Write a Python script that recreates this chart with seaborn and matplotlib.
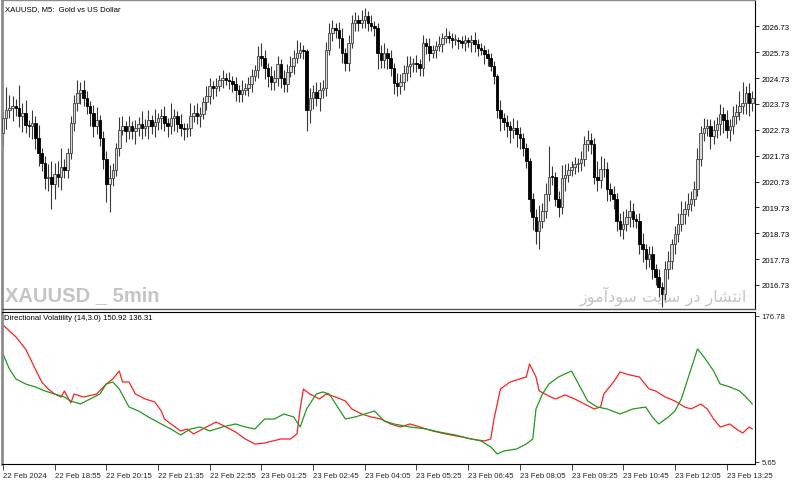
import numpy as np
import pandas as pd
import matplotlib
matplotlib.use("Agg")
import matplotlib.pyplot as plt
from matplotlib import font_manager as fm
import seaborn as sns

# ---------------- data ----------------
open_first = 2022.60
closes = [
    2023.17, 2023.48, 2023.56, 2023.64, 2023.56, 2023.25, 2023.37, 2022.90, 2022.86, 2022.98,
    2022.40, 2021.82, 2021.43, 2020.85, 2020.92, 2020.65, 2021.04, 2020.92, 2021.31, 2021.16,
    2021.82, 2022.98, 2023.76, 2024.14, 2024.26, 2023.95, 2023.64, 2023.37, 2022.86, 2023.10,
    2022.40, 2021.62, 2020.65, 2020.85, 2021.16, 2022.01, 2022.71, 2022.86, 2022.67, 2022.86,
    2022.67, 2022.79, 2022.94, 2022.79, 2022.86, 2023.10, 2022.86, 2023.02, 2023.17, 2023.25,
    2022.98, 2022.86, 2023.17, 2023.25, 2022.94, 2022.79, 2022.75, 2022.80, 2023.25, 2023.37,
    2023.25, 2023.33, 2023.80, 2024.03, 2024.42, 2024.34, 2024.42, 2024.65, 2024.73, 2024.65,
    2024.62, 2024.49, 2024.26, 2024.11, 2024.26, 2024.34, 2024.49, 2024.80, 2025.04, 2025.58,
    2025.50, 2025.11, 2024.80, 2024.57, 2024.73, 2025.27, 2024.73, 2024.49, 2024.96, 2025.19,
    2025.50, 2025.70, 2025.81, 2025.77, 2023.48, 2023.95, 2024.18, 2023.95, 2024.26, 2024.34,
    2025.81, 2026.47, 2026.67, 2026.59, 2026.28, 2025.70, 2025.31, 2026.08, 2026.86, 2026.98,
    2026.86, 2026.98, 2027.13, 2026.86, 2026.74, 2026.67, 2025.70, 2025.42, 2025.70, 2025.50,
    2025.11, 2024.53, 2024.42, 2024.57, 2024.92, 2025.19, 2025.27, 2025.31, 2025.27, 2025.11,
    2026.08, 2025.97, 2025.70, 2025.81, 2025.97, 2026.04, 2026.28, 2026.36, 2026.28, 2026.20,
    2026.22, 2026.16, 2026.08, 2026.20, 2026.12, 2026.20, 2026.04, 2025.89, 2025.81, 2025.66,
    2025.50, 2025.19, 2024.80, 2023.48, 2023.17, 2023.02, 2022.86, 2022.71, 2022.79, 2022.55,
    2022.40, 2022.01, 2021.54, 2020.07, 2019.37, 2018.83, 2019.22, 2019.60, 2020.26, 2020.92,
    2020.90, 2020.07, 2019.76, 2020.85, 2021.00, 2021.16, 2021.31, 2021.39, 2021.43, 2021.62,
    2022.20, 2022.32, 2022.20, 2020.92, 2020.77, 2021.23, 2021.20, 2020.46, 2020.26, 2020.07,
    2019.22, 2018.91, 2019.10, 2019.37, 2019.60, 2019.29, 2019.22, 2018.32, 2018.13, 2017.74,
    2017.94, 2017.35, 2017.04, 2016.66, 2016.38, 2017.35, 2017.66, 2018.32, 2018.71, 2019.10,
    2019.49, 2019.68, 2019.88, 2020.07, 2020.46, 2021.62, 2022.59, 2022.79, 2022.86, 2022.48,
    2022.71, 2022.94, 2023.33, 2023.10, 2022.71, 2022.86, 2023.25, 2023.41, 2023.64, 2023.76,
    2024.14, 2023.76, 2023.95,
]
wick_up = [
    0.3, 0.9, 0.5, 0.4, 0.3, 0.9, 0.4, 0.5, 0.2, 0.5,
    0.3, 0.5, 0.2, 0.3, 0.5, 0.6, 0.4, 0.5, 0.7, 0.3,
    0.2, 0.3, 0.3, 0.5, 0.3, 0.4, 0.3, 0.2, 0.3, 0.5,
    0.2, 0.3, 0.3, 0.5, 0.3, 0.2, 0.5, 0.4, 0.2, 0.4,
    0.2, 0.3, 0.3, 0.5, 0.3, 0.4, 0.2, 0.5, 0.2, 0.3,
    0.4, 0.2, 0.6, 0.3, 0.2, 0.4, 0.2, 0.2, 0.5, 0.3,
    0.4, 0.3, 0.2, 0.4, 0.3, 0.2, 0.3, 0.2, 0.3, 0.2,
    0.3, 0.2, 0.3, 0.2, 0.4, 0.2, 0.3, 0.3, 0.2, 0.4,
    0.5, 0.3, 0.2, 0.4, 0.3, 0.3, 0.2, 0.3, 0.3, 0.4,
    0.3, 0.5, 0.3, 0.2, 0.1, 0.4, 0.3, 0.4, 0.3, 0.3,
    0.3, 0.4, 0.3, 0.2, 0.3, 0.4, 0.2, 0.3, 0.3, 0.3,
    0.2, 0.4, 0.3, 0.2, 0.3, 0.2, 0.2, 0.3, 0.4, 0.2,
    0.3, 0.2, 0.4, 0.3, 0.3, 0.4, 0.3, 0.2, 0.3, 0.2,
    0.3, 0.2, 0.3, 0.2, 0.2, 0.3, 0.2, 0.3, 0.2, 0.2,
    0.2, 0.1, 0.2, 0.2, 0.1, 0.2, 0.3, 0.2, 0.2, 0.2,
    0.2, 0.2, 0.2, 0.1, 0.4, 0.2, 0.3, 0.2, 0.4, 0.3,
    0.3, 0.2, 0.2, 0.1, 0.2, 0.3, 0.6, 0.3, 0.4, 1.2,
    0.4, 0.2, 0.3, 0.5, 0.4, 0.3, 0.2, 0.3, 0.2, 0.3,
    0.3, 0.4, 0.3, 0.2, 0.6, 0.5, 0.4, 0.3, 0.2, 0.3,
    0.2, 0.3, 0.5, 0.3, 0.4, 0.3, 0.2, 0.3, 0.4, 0.2,
    0.3, 0.3, 0.2, 0.3, 0.2, 0.3, 0.4, 0.2, 0.3, 0.4,
    0.5, 0.3, 0.4, 0.3, 0.3, 0.4, 0.3, 0.4, 0.3, 0.3,
    0.4, 0.3, 0.4, 0.3, 0.4, 0.3, 0.4, 0.3, 0.6, 0.8,
    0.3, 0.4, 0.3,
]
wick_dn = [
    0.5, 0.4, 0.3, 0.5, 0.3, 0.4, 0.6, 0.3, 0.4, 0.5,
    0.4, 0.5, 0.3, 0.4, 0.5, 1.0, 0.6, 0.4, 0.5, 0.3,
    0.3, 0.2, 0.3, 0.3, 0.4, 0.3, 0.3, 0.5, 0.4, 0.3,
    0.3, 0.4, 0.7, 1.1, 0.3, 0.2, 0.3, 0.2, 0.4, 0.3,
    0.3, 0.5, 0.3, 0.4, 0.3, 0.5, 0.3, 0.4, 0.3, 0.4,
    0.3, 0.4, 0.3, 0.5, 0.3, 0.3, 0.4, 0.3, 0.3, 0.2,
    0.3, 0.4, 0.2, 0.3, 0.3, 0.4, 0.3, 0.2, 0.3, 0.2,
    0.3, 0.3, 0.4, 0.3, 0.3, 0.2, 0.3, 0.3, 0.2, 0.3,
    0.3, 0.4, 0.4, 0.3, 0.3, 0.3, 0.4, 0.3, 0.3, 0.2,
    0.3, 0.2, 0.2, 0.3, 0.8, 0.5, 0.4, 0.3, 0.5, 0.3,
    0.3, 0.2, 0.3, 0.3, 0.4, 0.4, 0.3, 0.3, 0.2, 0.3,
    0.3, 0.2, 0.3, 0.3, 0.2, 0.3, 0.6, 0.3, 0.3, 0.4,
    0.3, 0.4, 0.4, 0.3, 0.3, 0.3, 0.4, 0.3, 0.3, 0.3,
    0.3, 0.3, 0.3, 0.2, 0.3, 0.2, 0.3, 0.2, 0.2, 0.3,
    0.2, 0.3, 0.2, 0.3, 0.2, 0.4, 0.3, 0.3, 0.2, 0.4,
    0.3, 0.2, 0.3, 0.3, 0.5, 0.3, 0.4, 0.5, 0.3, 0.5,
    0.4, 0.3, 0.3, 0.5, 0.5, 0.5, 0.7, 0.3, 0.3, 0.3,
    0.3, 0.3, 0.4, 0.3, 0.5, 0.3, 0.2, 0.3, 0.3, 0.3,
    0.3, 0.3, 0.4, 0.3, 0.4, 0.3, 0.3, 0.5, 0.3, 0.4,
    0.4, 0.3, 0.4, 0.3, 0.4, 0.3, 0.3, 0.4, 0.5, 0.4,
    0.3, 0.4, 0.3, 0.4, 0.5, 0.3, 0.4, 0.3, 0.4, 0.3,
    0.3, 0.4, 0.3, 0.3, 0.3, 0.3, 0.3, 0.3, 0.3, 0.5,
    0.3, 0.3, 0.4, 0.5, 0.3, 0.4, 0.3, 0.3, 0.3, 0.3,
    0.4, 0.5, 0.3,
]

# Directional Volatility lines (bar index, value)
red_bar = [0, 2, 4, 7, 10, 12, 14, 16, 18, 19, 21, 22, 25, 29, 32, 34, 36, 37, 39, 41,
           44, 47, 49, 50, 52, 55, 57, 59, 63, 66, 69, 72, 75, 78, 81, 86, 89, 91, 92, 93,
           95, 98, 100, 103, 106, 108, 111, 114, 117, 120, 123, 126, 129, 133, 137, 142, 145, 149,
           151, 152, 154, 157, 160, 162, 163, 165, 166, 169, 171, 174, 177, 180, 183, 185,
           186, 189, 191, 194, 197, 200, 202, 205, 208, 211, 213, 216, 218, 220, 222, 225,
           227, 229, 231, 232]
red_val = [166.2, 159.2, 152.2, 138.1, 114.6, 99.4, 91.2, 85.3, 81.8, 88.9, 74.8, 85.3, 81.8, 85.3,
           97.1, 103.0, 112.3, 99.4, 99.4, 85.3, 79.5, 76.0, 65.4, 56.1, 50.2, 42.0, 44.3, 38.5,
           46.7, 52.5, 46.7, 40.8, 32.6, 26.7, 27.9, 32.6, 32.6, 38.5, 67.8, 91.2,
           85.3, 79.5, 85.3, 81.8, 77.1, 67.8, 61.9, 58.4, 56.0, 50.2, 46.7, 50.2, 46.7, 42.0,
           38.5, 35.0, 32.6, 30.3, 32.6, 56.0, 91.2, 99.4, 103.0, 105.3, 120.5, 105.3, 88.9,
           83.0, 79.5, 84.2, 79.5, 73.6, 67.8, 70.1, 85.3, 99.4, 111.1, 107.6, 105.3, 91.2,
           88.9, 81.8, 77.1, 70.1, 67.8, 73.6, 67.8, 56.0, 46.7, 50.2, 44.3, 39.6, 46.7, 44.3]
green_bar = [0, 2, 4, 7, 10, 13, 16, 19, 21, 24, 27, 30, 32, 34, 36, 39, 42, 45, 49, 52,
             55, 58, 61, 64, 68, 72, 75, 78, 81, 84, 87, 90, 92, 94, 97, 99, 101, 104, 106, 109,
             112, 115, 118, 121, 126, 131, 135, 140, 145, 148, 151, 153, 155, 159, 162, 164,
             165, 167, 169, 172, 174, 176, 179, 181, 184, 187, 191, 195, 199, 201, 203, 206,
             208, 210, 212, 215, 217, 220, 222, 225, 228, 230, 232]
green_val = [132.2, 114.6, 103.0, 97.1, 93.6, 88.9, 85.3, 81.8, 77.1, 73.6, 79.5, 85.3, 97.1,
             99.4, 91.2, 70.1, 65.4, 58.4, 50.2, 44.3, 37.3, 44.3, 46.7, 42.0, 46.7, 50.2, 46.7,
             44.3, 56.0, 56.0, 61.9, 58.4, 46.7, 67.8, 85.3, 87.7, 85.3, 67.8, 56.0, 58.4,
             61.9, 65.4, 53.7, 50.2, 46.7, 44.3, 40.8, 37.3, 32.6, 30.3, 23.2, 15.0, 18.5, 20.9,
             26.7, 32.6, 67.8, 85.3, 97.1, 105.3, 108.8, 112.3, 91.2, 77.1, 70.1, 67.8, 61.9,
             67.8, 70.1, 58.4, 50.2, 58.4, 65.4, 79.5, 103.0, 138.1, 128.7, 112.3, 97.1, 93.6,
             88.9, 81.8, 73.6]

price_ticks = [2016.73, 2017.73, 2018.73, 2019.73, 2020.73, 2021.73,
               2022.73, 2023.73, 2024.73, 2025.73, 2026.73]
vol_ticks = [5.65, 176.78]
vol_tick_labels = ["5.65", "176.78"]
time_tick_bars = [0, 16, 32, 48, 64, 80, 96, 112, 128, 144, 160, 176, 192, 208, 224]
time_labels = ["22 Feb 2024", "22 Feb 18:55", "22 Feb 20:15", "22 Feb 21:35", "22 Feb 22:55",
               "23 Feb 01:25", "23 Feb 02:45", "23 Feb 04:05", "23 Feb 05:25", "23 Feb 06:45",
               "23 Feb 08:05", "23 Feb 09:25", "23 Feb 10:45", "23 Feb 12:05", "23 Feb 13:25"]

# ---------------- figure ----------------
sns.set_style("white")
plt.rcParams['font.family'] = ['Liberation Sans', 'DejaVu Sans']
SMALL = 5.6

names = {f.name for f in fm.fontManager.ttflist}
if "Liberation Sans Narrow" in names:
    wm_family, wm_size = ["Liberation Sans Narrow", "DejaVu Sans"], 17
else:
    wm_family, wm_size = ["Liberation Sans", "DejaVu Sans"], 14.5

W, H = 800, 485
fig = plt.figure(figsize=(W / 100, H / 100), dpi=100)
fig.patch.set_facecolor("white")

def fr(x0, y0, x1, y1):
    return [x0 / W, 1 - y1 / H, (x1 - x0) / W, (y1 - y0) / H]

ax = fig.add_axes(fr(2, 1, 755, 310))
ax2 = fig.add_axes(fr(2, 313, 755, 465))

n = len(closes)
xs = np.arange(n)
c = np.array(closes)
o = np.array([open_first] + closes[:-1])
hi = np.maximum(o, c) + np.array(wick_up)
lo = np.minimum(o, c) - np.array(wick_dn)
bull = c >= o

ax.vlines(xs, lo, hi, color="#383838", lw=0.8, zorder=2)
body_h = np.where(np.abs(c - o) < 0.03, 0.03, np.abs(c - o))
body_b = np.minimum(o, c)
ax.bar(xs[bull], body_h[bull], bottom=body_b[bull], width=0.78,
       facecolor="#d9d9d9", edgecolor="#404040", linewidth=0.6, zorder=3)
ax.bar(xs[~bull], body_h[~bull], bottom=body_b[~bull], width=0.78,
       facecolor="black", edgecolor="black", linewidth=0.6, zorder=3)

ax.set_xlim(-0.3, 232.8)
ax.set_ylim(2015.80, 2027.75)
ax.yaxis.tick_right()
ax.set_yticks(price_ticks)
ax.set_yticklabels([f"{t:.2f}" for t in price_ticks])
ax.tick_params(axis="y", direction="out", length=3, width=0.6, labelsize=SMALL, pad=1.5,
               colors="black", right=True, left=False)
ax.set_xticks([])
for s in ["left", "top"]:
    ax.spines[s].set_color("#8c8c8c")
ax.spines["left"].set_linewidth(2.0)
ax.spines["top"].set_linewidth(1.0)
ax.spines["right"].set_color("black")
ax.spines["right"].set_linewidth(0.8)
ax.spines["bottom"].set_color("#555555")
ax.spines["bottom"].set_linewidth(1.0)

ax.text(0.004, 0.985, "XAUUSD, M5:  Gold vs US Dollar", transform=ax.transAxes,
        fontsize=SMALL, va="top", ha="left", color="black")

# watermarks
fig.text(5 / W, 1 - 296 / H, "XAUUSD _ 5min", fontsize=wm_size, fontweight="bold",
         family=wm_family, color="#c4c4c4", va="center", ha="left")
persian_visual = ("\uFEAF\uFEEE\uFEE3\uFE81\uFEA9\uFEEE\uFEB3 "
                  "\uFE96\uFEF3\uFE8E\uFEB3 "
                  "\uFEAD\uFEA9 "
                  "\uFEAD\uFE8E\uFEB8\uFE98\uFEE7\uFE8D")
fig.text(747 / W, 1 - 296 / H, persian_visual, fontsize=11.5,
         family=["DejaVu Sans"], color="#c4c4c4", va="center", ha="right")

# lower panel with seaborn
red_df = pd.DataFrame({"bar": red_bar, "val": red_val})
green_df = pd.DataFrame({"bar": green_bar, "val": green_val})
sns.lineplot(data=red_df, x="bar", y="val", ax=ax2, color="#ff2020", lw=0.9)
sns.lineplot(data=green_df, x="bar", y="val", ax=ax2, color="#1f9a1f", lw=0.9)
ax2.set_xlim(-0.3, 232.8)
ax2.set_ylim(3.3, 181.4)
ax2.set_xlabel("")
ax2.set_ylabel("")
ax2.yaxis.tick_right()
ax2.set_yticks(vol_ticks)
ax2.set_yticklabels(vol_tick_labels)
ax2.tick_params(axis="y", direction="out", length=3, width=0.6, labelsize=SMALL, pad=1.5,
                right=True, left=False)
ax2.set_xticks(time_tick_bars)
ax2.set_xticklabels(time_labels)
ax2.tick_params(axis="x", direction="out", length=4, width=0.6, labelsize=SMALL, pad=1.5,
                bottom=True)
for lab in ax2.get_xticklabels():
    lab.set_horizontalalignment("left")
ax2.spines["left"].set_color("#8c8c8c")
ax2.spines["left"].set_linewidth(2.0)
for s in ["top", "right", "bottom"]:
    ax2.spines[s].set_color("black")
    ax2.spines[s].set_linewidth(0.8)
ax2.text(0.002, 0.985, "Directional Volatility (14,3.0) 150.92 136.31", transform=ax2.transAxes,
         fontsize=SMALL, va="top", ha="left", color="black")

fig.savefig("out.png", dpi=100, facecolor="white")
